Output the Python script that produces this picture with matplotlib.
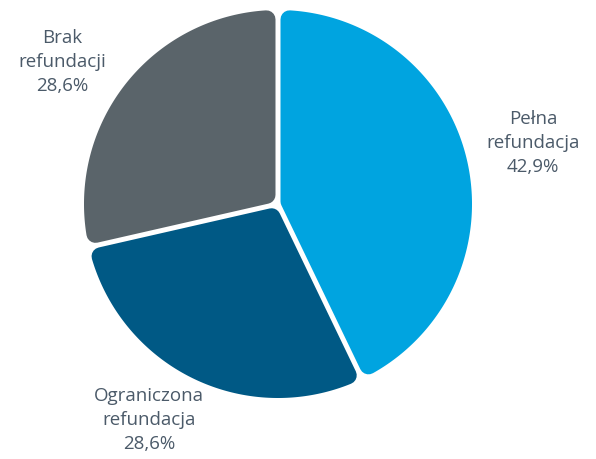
import matplotlib.pyplot as plt
import numpy as np
from matplotlib.patches import Polygon

plt.rcParams['font.family'] = ['Open Sans', 'DejaVu Sans']

labels = ['Pełna\nrefundacja', 'Ograniczona\nrefundacja', 'Brak\nrefundacji']
values = [42.9, 28.6, 28.6]
colors = ['#00A4E0', '#005985', '#5A646A']
label_pos = [(533, 316), (149, 39), (62, 397)]

fig = plt.figure(figsize=(5.96, 4.59), dpi=100)
ax = fig.add_axes([0, 0, 1, 1])

wedges, _ = ax.pie(values, colors=colors, startangle=90, counterclock=False,
                   center=(278, 255), radius=194, frame=True)
ax.set_xlim(0, 596)
ax.set_ylim(0, 459)
ax.set_aspect('equal')
ax.axis('off')

gap = 2.5   # half gap between slices (px)
rc = 9      # corner rounding (px)
for w, col in zip(wedges, colors):
    w.set_visible(False)
    t1, t2 = np.radians(w.theta1), np.radians(w.theta2)
    cx, cy = w.center
    R = w.r - rc
    e = gap + rc
    s = np.sqrt(R**2 - e**2)
    dl = np.arctan2(e, s)
    half = (t2 - t1) / 2
    mid = t1 + half
    apex = (cx + e / np.sin(half) * np.cos(mid), cy + e / np.sin(half) * np.sin(mid))
    arc = np.linspace(t1 + dl, t2 - dl, 200)
    pts = [apex] + [(cx + R * np.cos(a), cy + R * np.sin(a)) for a in arc]
    ax.add_patch(Polygon(pts, closed=True, facecolor=col, edgecolor=col,
                         linewidth=2 * rc * 0.72, joinstyle='round'))

for lab, v, (x, y) in zip(labels, values, label_pos):
    ax.text(x, y, f"{lab}\n{v:.1f}%".replace('.', ','), ha='center', va='center',
            fontsize=13.5, color='#4B5A69', linespacing=1.4)

fig.savefig('out.png', dpi=100)
